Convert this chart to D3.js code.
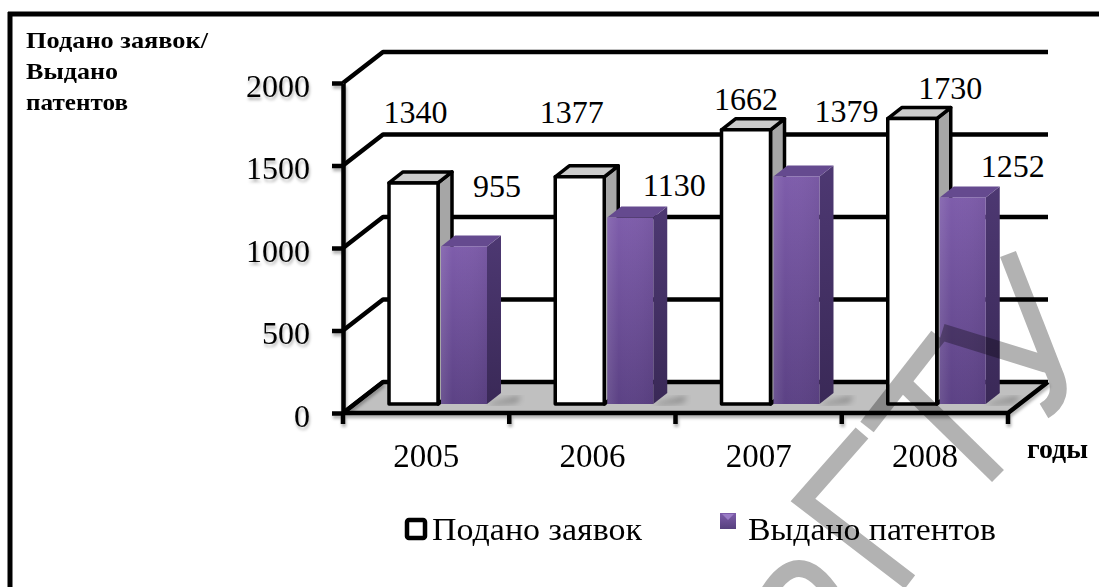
<!DOCTYPE html>
<html>
<head>
<meta charset="utf-8">
<script src="https://cdn.jsdelivr.net/npm/d3@7"></script>
<style>
  html, body { margin: 0; padding: 0; background: #fff; }
  svg { display: block; }
  text { font-family: "Liberation Serif", "Times New Roman", serif; fill: #000; }
</style>
</head>
<body>
<svg id="chart" width="1099" height="587"></svg>
<script>
// Patent activity by year
const years = ["2005", "2006", "2007", "2008"];
const applications = [1340, 1377, 1662, 1730];   // Подано заявок
const patents = [955, 1130, 1379, 1252];         // Выдано патентов
const yTicks = [0, 500, 1000, 1500, 2000];
const seriesNames = ["Подано заявок", "Выдано патентов"];
const yTitleLines = ["Подано заявок/", "Выдано", "патентов"];
const xTitle = "годы";

// Label placement relative to the top centre of each column (px)
const appLabelNudge = [[2, -71], [-8, -65], [0, -31], [38, -31]];
const patLabelNudge = [[33, -60], [44, -33], [50, -65], [50, -31]];

const svg = d3.select("#chart");
const defs = svg.append("defs");

// Scene geometry
const wall = { dx: 40, dy: -31 };      // depth of the floor / side wall
const col = { dx: 14, dy: -11 };       // depth of a single column
const colShift = -9;                   // columns stand slightly back on the floor

const x = d3.scaleBand().domain(years).range([343, 1008]).paddingInner(0).paddingOuter(0);
const y = d3.scaleLinear().domain([0, 2000]).range([413, 83]);
const bw = x.bandwidth();

// Gradients and filters
const gFront = defs.append("linearGradient").attr("id", "purpleFront")
  .attr("x1", 0).attr("y1", 0).attr("x2", 0).attr("y2", 1);
gFront.append("stop").attr("offset", "0%").attr("stop-color", "#7e5dab");
gFront.append("stop").attr("offset", "100%").attr("stop-color", "#5c4285");
const gFrontH = defs.append("linearGradient").attr("id", "purpleHi")
  .attr("x1", 0).attr("y1", 0).attr("x2", 1).attr("y2", 0);
gFrontH.append("stop").attr("offset", "0%").attr("stop-color", "#ffffff").attr("stop-opacity", 0.10);
gFrontH.append("stop").attr("offset", "25%").attr("stop-color", "#ffffff").attr("stop-opacity", 0);
gFrontH.append("stop").attr("offset", "100%").attr("stop-color", "#000000").attr("stop-opacity", 0.05);
const gSide = defs.append("linearGradient").attr("id", "purpleSide")
  .attr("x1", 0).attr("y1", 0).attr("x2", 0).attr("y2", 1);
gSide.append("stop").attr("offset", "0%").attr("stop-color", "#4d3872");
gSide.append("stop").attr("offset", "100%").attr("stop-color", "#3a2957");
const gLeg = defs.append("linearGradient").attr("id", "purpleLegend")
  .attr("x1", 0).attr("y1", 0).attr("x2", 0).attr("y2", 1);
gLeg.append("stop").attr("offset", "0%").attr("stop-color", "#7e5dab");
gLeg.append("stop").attr("offset", "100%").attr("stop-color", "#56407e");

const shadow = defs.append("filter").attr("id", "axisShadow")
  .attr("x", "-20%").attr("y", "-20%").attr("width", "140%").attr("height", "160%");
shadow.append("feDropShadow").attr("dx", 1).attr("dy", 3).attr("stdDeviation", 1.6)
  .attr("flood-color", "#000").attr("flood-opacity", 0.3);
const blur = defs.append("filter").attr("id", "soft");
blur.append("feGaussianBlur").attr("stdDeviation", 3);

// Outer frame
svg.append("path").attr("d", "M10,12 V600 M8,14 H1110")
  .attr("fill", "none").attr("stroke", "#000").attr("stroke-width", 5);

// Floor
const [xL, xR] = x.range();
const y0 = y(0);
svg.append("path")
  .attr("d", `M${xL},${y0} L${xR},${y0} L${xR + wall.dx},${y0 + wall.dy} L${xL + wall.dx},${y0 + wall.dy} Z`)
  .attr("fill", "#c0c0c0");

// Back wall grid lines with their side-wall segments
const grid = svg.append("g").attr("fill", "none").attr("stroke", "#000").attr("stroke-width", 4.5)
  .attr("stroke-linejoin", "round");
grid.selectAll("path").data(yTicks).join("path")
  .attr("d", v => `M${xL},${y(v)} L${xL + wall.dx},${y(v) + wall.dy} L${xR + wall.dx},${y(v) + wall.dy}`);

// Columns
const cols = svg.append("g");
years.forEach((yr, i) => {
  const x0 = x(yr);
  const base = y(0) + colShift;

  // soft floor shadow behind the purple column
  const px = x0 + 98, pw = 46;
  cols.append("path")
    .attr("d", `M${px + pw},${base} L${px + pw + 34},${base - 8} L${px + pw + 30},${base - 2} L${px + pw + 6},${base + 1} Z`)
    .attr("fill", "#000").attr("opacity", 0.35).attr("filter", "url(#soft)");

  // white column (applications)
  const wx = x0 + 46, ww = 49, wt = y(applications[i]) + colShift;
  const wg = cols.append("g").attr("stroke", "#000").attr("stroke-width", 3.5).attr("stroke-linejoin", "round");
  wg.append("path")
    .attr("d", `M${wx + ww},${wt} L${wx + ww + col.dx},${wt + col.dy} L${wx + ww + col.dx},${base + col.dy} L${wx + ww},${base} Z`)
    .attr("fill", "#a6a6a6");
  wg.append("path")
    .attr("d", `M${wx},${wt} L${wx + col.dx},${wt + col.dy} L${wx + ww + col.dx},${wt + col.dy} L${wx + ww},${wt} Z`)
    .attr("fill", "#cbcbcb");
  wg.append("rect").attr("x", wx).attr("y", wt).attr("width", ww).attr("height", base - wt)
    .attr("fill", "#fff");

  // purple column (patents)
  const pt = y(patents[i]) + colShift;
  cols.append("path")
    .attr("d", `M${px + pw},${pt} L${px + pw + col.dx},${pt + col.dy} L${px + pw + col.dx},${base + col.dy} L${px + pw},${base} Z`)
    .attr("fill", "url(#purpleSide)");
  cols.append("path")
    .attr("d", `M${px},${pt} L${px + col.dx},${pt + col.dy} L${px + pw + col.dx},${pt + col.dy} L${px + pw},${pt} Z`)
    .attr("fill", "#654a8f");
  cols.append("rect").attr("x", px).attr("y", pt).attr("width", pw).attr("height", base - pt)
    .attr("fill", "url(#purpleFront)");
  cols.append("rect").attr("x", px).attr("y", pt).attr("width", pw).attr("height", base - pt)
    .attr("fill", "url(#purpleHi)");

  // value labels
  const lw = appLabelNudge[i], lp = patLabelNudge[i];
  cols.append("text").attr("x", wx + ww / 2 + lw[0]).attr("y", wt + lw[1] + 11)
    .attr("text-anchor", "middle").attr("font-size", 32).text(applications[i]);
  cols.append("text").attr("x", px + pw / 2 + lp[0]).attr("y", pt + lp[1] + 11)
    .attr("text-anchor", "middle").attr("font-size", 32).text(patents[i]);
});

// Axes (front edges)
const axes = svg.append("g").attr("filter", "url(#axisShadow)");
const yAxis = axes.append("g").attr("transform", `translate(${xL},0)`)
  .call(d3.axisLeft(y).tickValues(yTicks).tickSizeInner(11).tickSizeOuter(0).tickPadding(22).tickFormat(d3.format("d")));
yAxis.select(".domain").attr("stroke", "#000").attr("stroke-width", 4.5);
yAxis.selectAll(".tick line").attr("stroke", "#000").attr("stroke-width", 4.5);
yAxis.selectAll(".tick text").attr("font-size", 32).attr("font-family", "Liberation Serif").attr("dy", "0.42em");

// floor front edge, right edge and category ticks
axes.append("path")
  .attr("d", `M${xL},${y0} L${xR},${y0} L${xR + wall.dx},${y0 + wall.dy}`)
  .attr("fill", "none").attr("stroke", "#000").attr("stroke-width", 4.5).attr("stroke-linejoin", "round");
axes.append("path").attr("d", `M${xL},${y0} L${xL + wall.dx},${y0 + wall.dy}`)
  .attr("fill", "none").attr("stroke", "#000").attr("stroke-width", 4);
const tickXs = years.map(d => x(d)).concat([xR]);
axes.selectAll(".xtick").data(tickXs).join("line").attr("class", "xtick")
  .attr("x1", d => d).attr("x2", d => d).attr("y1", y0).attr("y2", y0 + 11)
  .attr("stroke", "#000").attr("stroke-width", 4.5);

svg.append("g").selectAll("text").data(years).join("text")
  .attr("x", d => x(d) + bw / 2).attr("y", 467)
  .attr("text-anchor", "middle").attr("font-size", 33).text(d => d);

// Axis titles
const yTitle = svg.append("g");
const yTitleWidths = [182, 92, 102];
yTitleLines.forEach((t, i) => {
  yTitle.append("text").attr("x", 26).attr("y", 48 + i * 31)
    .attr("font-size", 23).attr("font-weight", "bold")
    .attr("textLength", yTitleWidths[i]).attr("lengthAdjust", "spacingAndGlyphs").text(t);
});
svg.append("text").attr("x", 1027).attr("y", 458).attr("font-size", 27).attr("font-weight", "bold")
  .attr("textLength", 61).attr("lengthAdjust", "spacingAndGlyphs").text(xTitle);

// Legend
const legend = svg.append("g");
legend.append("rect").attr("x", 407).attr("y", 520).attr("width", 18).attr("height", 18).attr("rx", 2)
  .attr("fill", "#fff").attr("stroke", "#000").attr("stroke-width", 4.5);
legend.append("text").attr("x", 432).attr("y", 540).attr("font-size", 32)
  .attr("textLength", 210).attr("lengthAdjust", "spacingAndGlyphs").text(seriesNames[0]);
legend.append("rect").attr("x", 720).attr("y", 513).attr("width", 16).attr("height", 16)
  .attr("fill", "url(#purpleLegend)");
legend.append("path").attr("d", "M722,514 L734,514 L728,520 Z").attr("fill", "#9a7cc6");
legend.append("text").attr("x", 748).attr("y", 540).attr("font-size", 32)
  .attr("textLength", 248).attr("lengthAdjust", "spacingAndGlyphs").text(seriesNames[1]);

// Translucent stamp in the lower right corner
const stamp = svg.append("g").attr("opacity", 0.3)
  .attr("fill", "none").attr("stroke", "#000").attr("stroke-width", 17);
stamp.append("path").attr("d", "M1008,254 L1054,372 Q1066,398 1044,411");
stamp.append("path").attr("d", "M942,332 L1052,366");
stamp.append("path").attr("d", "M938,336 L867,427");
stamp.append("path").attr("d", "M902,382 L998,476");
stamp.append("path").attr("d", "M862,433 L803,500 L910,582").attr("stroke-linejoin", "miter");
stamp.append("path").attr("d", "M766,597 Q798,540 834,597");
</script>
</body>
</html>
